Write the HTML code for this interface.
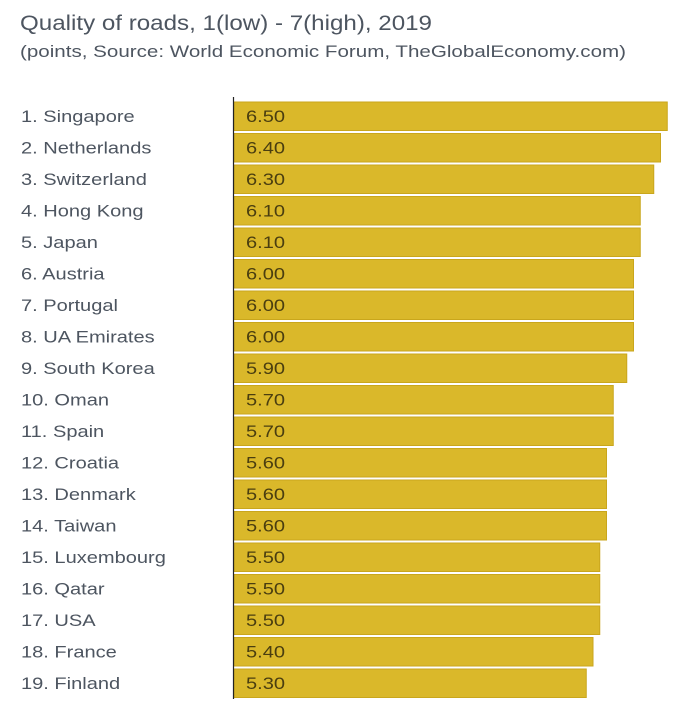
<!DOCTYPE html>
<html><head><meta charset="utf-8"><style>
body{margin:0;background:#fff;width:690px;height:699px;overflow:hidden;font-family:"Liberation Sans",sans-serif}
</style></head><body>
<svg id="chart" width="690" height="699">
<text x="20" y="30" font-size="21" fill="#4d5560" textLength="412" lengthAdjust="spacingAndGlyphs">Quality of roads, 1(low) - 7(high), 2019</text>
<text x="20" y="57" font-size="17" fill="#4d5560" textLength="606" lengthAdjust="spacingAndGlyphs">(points, Source: World Economic Forum, TheGlobalEconomy.com)</text>
<g id="bars"></g>
<line x1="233.5" y1="97" x2="233.5" y2="699" stroke="#222" stroke-width="1.2"/>
</svg>
<script>
const categories=["1. Singapore","2. Netherlands","3. Switzerland","4. Hong Kong","5. Japan","6. Austria","7. Portugal","8. UA Emirates","9. South Korea","10. Oman","11. Spain","12. Croatia","13. Denmark","14. Taiwan","15. Luxembourg","16. Qatar","17. USA","18. France","19. Finland"];
const values=[6.5,6.4,6.3,6.1,6.1,6.0,6.0,6.0,5.9,5.7,5.7,5.6,5.6,5.6,5.5,5.5,5.5,5.4,5.3];
const valueLabels=values.map(v=>v.toFixed(2));
const x=v=>228.5+v*67.5;
const y=i=>102+i*31.5;
const ns="http://www.w3.org/2000/svg";
const g=document.getElementById('bars');
categories.forEach((c,i)=>{
  const r=document.createElementNS(ns,'rect');
  
  
  r.setAttribute('x',234);r.setAttribute('y',y(i));
  r.setAttribute('width',x(values[i])-234);r.setAttribute('height',28.5);
  r.setAttribute('fill','#dab82a');r.setAttribute('stroke','#c9a61c');r.setAttribute('stroke-width','1');
  g.appendChild(r);
  const t=document.createElementNS(ns,'text');
  
  
  t.setAttribute('x',0);t.setAttribute('y',0);
  t.setAttribute('transform','translate(21,'+(y(i)+20)+') scale(1.18,1)');
  t.setAttribute('font-size','17');t.setAttribute('fill','#4d5560');
  t.textContent=c;g.appendChild(t);
  const v=document.createElementNS(ns,'text');
  
  
  v.setAttribute('x',0);v.setAttribute('y',0);
  v.setAttribute('transform','translate(246,'+(y(i)+20)+') scale(1.18,1)');
  v.setAttribute('font-size','17');v.setAttribute('fill','#4a3e10');
  v.textContent=valueLabels[i];g.appendChild(v);
});
</script>
</body></html>
